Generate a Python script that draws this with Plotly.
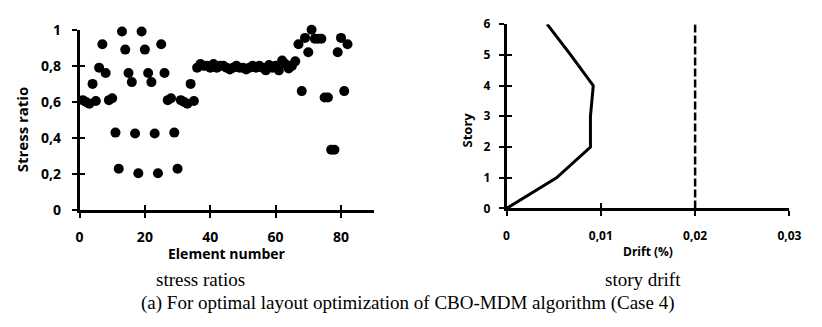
import plotly.graph_objects as go

# ---- data ----
element_number = list(range(1, 83))
stress_ratio = [
    0.61, 0.60, 0.59, 0.70, 0.605, 0.79, 0.92, 0.76, 0.61, 0.62,
    0.43, 0.23, 0.99, 0.89, 0.76, 0.71, 0.425, 0.205, 0.99, 0.89,
    0.76, 0.71, 0.425, 0.205, 0.92, 0.76, 0.61, 0.62, 0.43, 0.23,
    0.61, 0.60, 0.59, 0.70, 0.605, 0.79, 0.81, 0.80, 0.80, 0.79,
    0.81, 0.79, 0.80, 0.80, 0.79, 0.78, 0.79, 0.80, 0.79, 0.79,
    0.78, 0.79, 0.80, 0.79, 0.80, 0.79, 0.775, 0.805, 0.79, 0.80,
    0.775, 0.83, 0.81, 0.785, 0.80, 0.825, 0.92, 0.66, 0.955, 0.875,
    1.00, 0.95, 0.95, 0.95, 0.625, 0.625, 0.335, 0.335, 0.875, 0.955,
    0.66, 0.92,
]
story = [0, 1, 2, 3, 4, 5, 6]
drift = [0, 0.0053, 0.0089, 0.0089, 0.0092, 0.0068, 0.0043]
limit_drift = [0.02, 0.02]
limit_story = [0, 6]

left_xticks = [0, 20, 40, 60, 80]
left_yticks = [0, 0.2, 0.4, 0.6, 0.8, 1]
right_xticks = [0, 0.01, 0.02, 0.03]
right_yticks = [0, 1, 2, 3, 4, 5, 6]

W, H = 822, 327
L_dom_x = [77 / W, 377 / W]
L_dom_y = [1 - 212.5 / H, 1 - 21 / H]
R_dom_x = [512.5 / W, 801 / W]
R_dom_y = [1 - 210.7 / H, 1 - 15 / H]

BF = "Open Sans"
fig = go.Figure()

fig.add_trace(go.Scatter(x=element_number, y=stress_ratio, mode="markers",
                         marker=dict(color="black", size=10),
                         cliponaxis=False, xaxis="x", yaxis="y", showlegend=False))
fig.add_trace(go.Scatter(x=drift, y=story, mode="lines",
                         line=dict(color="black", width=3),
                         cliponaxis=False, xaxis="x2", yaxis="y2", showlegend=False))
fig.add_trace(go.Scatter(x=limit_drift, y=limit_story, mode="lines",
                         line=dict(color="black", width=2.5, dash="8px,3px"),
                         cliponaxis=False, xaxis="x2", yaxis="y2", showlegend=False))
# invisible traces on overlay axes (they give the crossing tick marks)
fig.add_trace(go.Scatter(x=[None], y=[None], xaxis="x3", yaxis="y", showlegend=False))
fig.add_trace(go.Scatter(x=[None], y=[None], xaxis="x", yaxis="y3", showlegend=False))
fig.add_trace(go.Scatter(x=[None], y=[None], xaxis="x4", yaxis="y2", showlegend=False))
fig.add_trace(go.Scatter(x=[None], y=[None], xaxis="x2", yaxis="y4", showlegend=False))

ax_common = dict(showline=True, linecolor="black", linewidth=2.5, ticks="outside",
                 ticklen=5, tickwidth=2, tickcolor="black", showgrid=False,
                 zeroline=False, fixedrange=True)
ov_common = dict(showline=False, ticks="inside", ticklen=5, tickwidth=2,
                 tickcolor="black", showgrid=False, zeroline=False,
                 showticklabels=False, fixedrange=True)

fig.update_layout(
    width=W, height=H, margin=dict(l=0, r=0, t=0, b=0),
    paper_bgcolor="white", plot_bgcolor="white",
    separators=", ",
    xaxis=dict(domain=L_dom_x, range=[0, 90], tickvals=left_xticks, anchor="y",
               tickfont=dict(family=BF, size=14, color="black", weight="bold"),
               ticklabelstandoff=7, **ax_common),
    yaxis=dict(domain=L_dom_y, range=[0, 1], tickvals=left_yticks, anchor="x",
               tickfont=dict(family=BF, size=14, color="black", weight="bold"),
               ticklabelstandoff=8, **ax_common),
    xaxis2=dict(domain=R_dom_x, range=[0, 0.03], tickvals=right_xticks, anchor="y2",
                tickfont=dict(family=BF, size=12, color="black", weight="bold"),
                ticklabelstandoff=9, **ax_common),
    yaxis2=dict(domain=R_dom_y, range=[0, 6], tickvals=right_yticks, anchor="x2",
                tickfont=dict(family=BF, size=12, color="black", weight="bold"),
                ticklabelstandoff=6, **ax_common),
    xaxis3=dict(overlaying="x", range=[0, 90], tickvals=left_xticks, anchor="y", side="bottom", **ov_common),
    yaxis3=dict(overlaying="y", range=[0, 1], tickvals=left_yticks, anchor="x", side="left", **ov_common),
    xaxis4=dict(overlaying="x2", range=[0, 0.03], tickvals=right_xticks, anchor="y2", side="bottom", **ov_common),
    yaxis4=dict(overlaying="y2", range=[0, 6], tickvals=right_yticks, anchor="x2", side="left", **ov_common),
)

def ann(text, x, y, size, family=BF, bold=True, angle=0):
    fig.add_annotation(text=text, x=x / W, y=1 - y / H, xref="paper", yref="paper",
                       showarrow=False, textangle=angle, xanchor="center", yanchor="middle",
                       font=dict(family=family, size=size, color="black",
                                 weight="bold" if bold else "normal"))

ann("Stress ratio", 18, 127, 15, angle=-90)
ann("Element number", 227, 258, 14)
ann("Story", 472, 127, 13, angle=-90)
ann("Drift (%)", 657, 256, 12)
ann("stress ratios", 200, 286, 19, family="Liberation Serif", bold=False)
ann("story drift", 652, 286, 19, family="Liberation Serif", bold=False)
ann("(a) For optimal layout optimization of CBO-MDM algorithm (Case 4)", 412, 311, 19,
    family="Liberation Serif", bold=False)

fig.write_html("out.html")
